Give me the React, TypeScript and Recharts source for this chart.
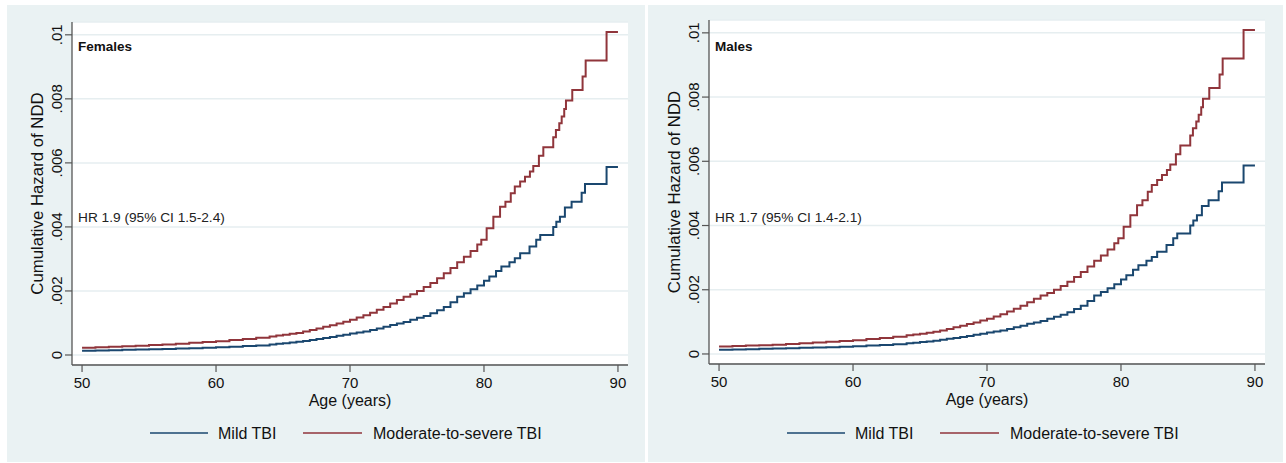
import { LineChart, Line, XAxis, YAxis, CartesianGrid } from "recharts";

// x positions of the steps (age in years)
const mildAges = [
  50, 51, 52, 53, 54, 55, 56, 57, 58, 59, 60, 61, 62, 63, 64, 64.5, 65, 65.5, 66, 66.5, 67, 67.5,
  68, 68.5, 69, 69.5, 70, 70.5, 71, 71.5, 72, 72.5, 73, 73.5, 74, 74.5, 75, 75.5, 76, 76.5, 77, 77.5,
  78, 78.5, 79, 79.5, 80, 80.4, 80.9, 81.3, 81.9, 82.3, 82.7, 83.4, 83.9, 84.2, 85.17, 85.4, 85.67,
  86.04, 86.54, 87.29, 87.54, 89.15, 90,
];
const severeAges = [
  50, 51, 52, 53, 54, 55, 56, 57, 58, 59, 60, 61, 62, 63, 64, 64.5, 65, 65.5, 66, 66.5, 67, 67.5,
  68, 68.5, 69, 69.5, 70, 70.5, 71, 71.5, 72, 72.5, 73, 73.5, 74, 74.5, 75, 75.5, 76, 76.5, 77, 77.5,
  78, 78.5, 79, 79.5, 79.8, 80.2, 80.7, 81.2, 81.6, 82.0, 82.3, 82.7, 83.06, 83.43, 83.68, 84.1,
  84.43, 85.17, 85.37, 85.62, 85.8, 85.99, 86.12, 86.59, 87.36, 87.59, 89.15, 90,
];

// cumulative hazard
const femaleMild = [
  0.00013, 0.00014, 0.00015, 0.00016, 0.00017, 0.00018, 0.00019, 0.0002, 0.00021, 0.000225, 0.00024,
  0.00026, 0.00028, 0.0003, 0.00033, 0.00035, 0.00037, 0.00039, 0.00041, 0.00044, 0.00047, 0.0005,
  0.00053, 0.00056, 0.0006, 0.00063, 0.00067, 0.0007, 0.00073, 0.00078, 0.00083, 0.00088, 0.00094,
  0.00098, 0.00103, 0.0011, 0.00116, 0.00122, 0.0013, 0.0014, 0.0015, 0.00165, 0.00182, 0.00193,
  0.00205, 0.00217, 0.00232, 0.00245, 0.00262, 0.00276, 0.0029, 0.00302, 0.00318, 0.00339, 0.0036,
  0.00375, 0.004, 0.00416, 0.00432, 0.00461, 0.00479, 0.00507, 0.00534, 0.00587, 0.00587,
];
const femaleSevere = [
  0.00023, 0.000245, 0.00026, 0.000275, 0.00029, 0.00031, 0.00033, 0.000355, 0.00038, 0.000405,
  0.00043, 0.000465, 0.0005, 0.00054, 0.00058, 0.00061, 0.00063, 0.00066, 0.00069, 0.00073, 0.00078,
  0.00083, 0.00088, 0.00093, 0.00098, 0.00104, 0.0011, 0.00117, 0.00124, 0.00132, 0.00141, 0.0015,
  0.00161, 0.00172, 0.00182, 0.0019, 0.002, 0.00212, 0.00225, 0.0024, 0.00255, 0.00272, 0.0029,
  0.00307, 0.00325, 0.00345, 0.0036, 0.00396, 0.00432, 0.00463, 0.00479, 0.00505, 0.00526, 0.00542,
  0.00557, 0.00573, 0.0059, 0.00622, 0.00649, 0.0068, 0.00703, 0.00724, 0.00745, 0.00768, 0.00795,
  0.00828, 0.0087, 0.0092, 0.01009, 0.01009,
];
const maleMild = [
  0.00013, 0.00014, 0.00015, 0.00016, 0.00017, 0.00018, 0.00019, 0.0002, 0.00021, 0.000225, 0.00024,
  0.00026, 0.00028, 0.0003, 0.00033, 0.00035, 0.00037, 0.00039, 0.00041, 0.00044, 0.00047, 0.0005,
  0.00053, 0.00056, 0.0006, 0.00063, 0.00067, 0.0007, 0.00073, 0.00078, 0.00083, 0.00088, 0.00094,
  0.00098, 0.00103, 0.0011, 0.00116, 0.00122, 0.0013, 0.0014, 0.0015, 0.00165, 0.00182, 0.00193,
  0.00205, 0.00217, 0.00232, 0.00245, 0.00262, 0.00276, 0.0029, 0.00302, 0.00318, 0.00339, 0.0036,
  0.00375, 0.004, 0.00416, 0.00432, 0.00461, 0.00479, 0.00507, 0.00534, 0.00587, 0.00587,
];
const maleSevere = [
  0.00023, 0.000245, 0.00026, 0.000275, 0.00029, 0.00031, 0.00033, 0.000355, 0.00038, 0.000405,
  0.00043, 0.000465, 0.0005, 0.00054, 0.00058, 0.00061, 0.00063, 0.00066, 0.00069, 0.00073, 0.00078,
  0.00083, 0.00088, 0.00093, 0.00098, 0.00104, 0.0011, 0.00117, 0.00124, 0.00132, 0.00141, 0.0015,
  0.00161, 0.00172, 0.00182, 0.0019, 0.002, 0.00212, 0.00225, 0.0024, 0.00255, 0.00272, 0.0029,
  0.00307, 0.00325, 0.00345, 0.0036, 0.00396, 0.00432, 0.00463, 0.00479, 0.00505, 0.00526, 0.00542,
  0.00557, 0.00573, 0.0059, 0.00622, 0.00649, 0.0068, 0.00703, 0.00724, 0.00745, 0.00768, 0.00795,
  0.00828, 0.0087, 0.0092, 0.01009, 0.01009,
];

const ageTicks = [50, 60, 70, 80, 90];
const hazardTicks = [0, 0.002, 0.004, 0.006, 0.008, 0.01];
const seriesNames = ["Mild TBI", "Moderate-to-severe TBI"];

const BLUE = "#1a476f";
const RED = "#90353b";
const BG = "#eaf2f3";
const FONT = "'Liberation Sans', Arial, Helvetica, sans-serif";
const AXIS = "#555";
const X_AXIS_H = 30;

const toPoints = (ages: number[], vals: number[]) =>
  ages.map((age, i) => ({ age, h: vals[i] }));

// Stata style: ".002" instead of "0.002"
const fmtHazard = (v: number) => (v === 0 ? "0" : String(v).replace(/^0/, ""));

const YTick = (props: any) => {
  const { x, y, payload } = props;
  return (
    <text
      x={x}
      y={y}
      transform={`rotate(-90, ${x}, ${y})`}
      textAnchor="middle"
      fontSize={15}
      fontFamily={FONT}
      fill="#111"
    >
      {fmtHazard(payload.value)}
    </text>
  );
};

const XTick = (props: any) => {
  const { x, y, payload } = props;
  return (
    <text x={x} y={y} dy="0.71em" textAnchor="middle" fontSize={15} fontFamily={FONT} fill="#111">
      {payload.value}
    </text>
  );
};

interface PanelProps {
  left: number;
  width: number;
  axisW: number;
  top: number;
  right: number;
  bottom: number;
  title: string;
  hr: string;
  mild: number[];
  severe: number[];
}

function Panel({ left, width, axisW, top, right, bottom, title, hr, mild, severe }: PanelProps) {
  const H = 457;
  const plotLeft = axisW;
  const plotRight = width - right;
  const plotBottom = H - bottom;
  const midX = (plotLeft + plotRight) / 2;
  const midY = (top + plotBottom) / 2;
  const legendX = midX - 200;
  const legendY = 428;

  return (
    <div style={{ position: "absolute", left, top: 5, width, height: H, background: BG }}>
      <LineChart width={width} height={H} margin={{ top, right, bottom: bottom - X_AXIS_H, left: 0 }}>
        <CartesianGrid vertical={false} fill="#ffffff" stroke="#e6eef0" strokeWidth={1.5} />
        <XAxis
          dataKey="age"
          type="number"
          height={X_AXIS_H}
          domain={[49.25, 90.75]}
          allowDataOverflow
          ticks={ageTicks}
          tickSize={7}
          tickMargin={5}
          tick={<XTick />}
          axisLine={{ stroke: AXIS, strokeWidth: 1.3 }}
          tickLine={{ stroke: AXIS, strokeWidth: 1.2 }}
        />
        <YAxis
          type="number"
          domain={[-0.0003125, 0.0104]}
          allowDataOverflow
          ticks={hazardTicks}
          width={axisW}
          tickSize={7}
          tickMargin={3}
          tick={<YTick />}
          axisLine={{ stroke: AXIS, strokeWidth: 1.3 }}
          tickLine={{ stroke: AXIS, strokeWidth: 1.2 }}
        />
        <Line
          data={toPoints(mildAges, mild)}
          dataKey="h"
          name={seriesNames[0]}
          type="stepAfter"
          stroke={BLUE}
          strokeWidth={2}
          dot={false}
          isAnimationActive={false}
        />
        <Line
          data={toPoints(severeAges, severe)}
          dataKey="h"
          name={seriesNames[1]}
          type="stepAfter"
          stroke={RED}
          strokeWidth={2}
          dot={false}
          isAnimationActive={false}
        />
      </LineChart>

      {/* titles, annotations and legend */}
      <svg
        width={width}
        height={H}
        style={{ position: "absolute", left: 0, top: 0, pointerEvents: "none" }}
        fontFamily={FONT}
      >
        <text x={plotLeft + 6} y={46} fontSize={13.5} fontWeight="bold" fill="#111">
          {title}
        </text>
        <text x={plotLeft + 6} y={217} fontSize={13.7} fill="#222">
          {hr}
        </text>
        <text
          x={plotLeft - 29.5}
          y={midY}
          transform={`rotate(-90, ${plotLeft - 29.5}, ${midY})`}
          textAnchor="middle"
          fontSize={16.8}
          fill="#111"
        >
          Cumulative Hazard of NDD
        </text>
        <text x={midX} y={plotBottom + 40.5} textAnchor="middle" fontSize={16} fill="#111">
          Age (years)
        </text>

        <line x1={legendX} x2={legendX + 58} y1={legendY} y2={legendY} stroke={BLUE} strokeWidth={1.6} />
        <text x={legendX + 68} y={legendY + 6} fontSize={16} fill="#111">
          {seriesNames[0]}
        </text>
        <line
          x1={legendX + 153}
          x2={legendX + 212}
          y1={legendY}
          y2={legendY}
          stroke={RED}
          strokeWidth={1.6}
        />
        <text x={legendX + 223} y={legendY + 6} fontSize={16} fill="#111">
          {seriesNames[1]}
        </text>
      </svg>
    </div>
  );
}

export default function App() {
  return (
    <div style={{ position: "relative", width: 1286, height: 463, background: "#fff", overflow: "hidden" }}>
      <style>{"body{margin:0}"}</style>
      <Panel
        left={7}
        width={638}
        axisW={65}
        top={17}
        right={17}
        bottom={97}
        title="Females"
        hr="HR 1.9 (95% CI 1.5-2.4)"
        mild={femaleMild}
        severe={femaleSevere}
      />
      <Panel
        left={648}
        width={635}
        axisW={61}
        top={15}
        right={18}
        bottom={98}
        title="Males"
        hr="HR 1.7 (95% CI 1.4-2.1)"
        mild={maleMild}
        severe={maleSevere}
      />
    </div>
  );
}
